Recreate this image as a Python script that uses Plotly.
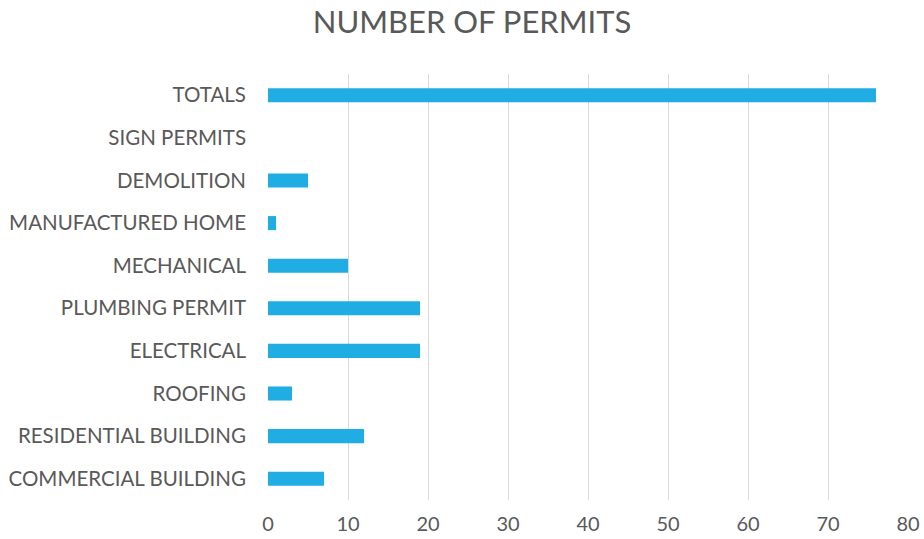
import plotly.graph_objects as go

categories = ["COMMERCIAL BUILDING", "RESIDENTIAL BUILDING", "ROOFING", "ELECTRICAL",
              "PLUMBING PERMIT", "MECHANICAL", "MANUFACTURED HOME", "DEMOLITION",
              "SIGN PERMITS", "TOTALS"]
values = [7, 12, 3, 19, 19, 10, 1, 5, 0, 76]
x_ticks = [0, 10, 20, 30, 40, 50, 60, 70, 80]

W, H = 924, 539

fig = go.Figure(go.Bar(
    x=values, y=categories, orientation="h",
    marker=dict(color="#1FADE4", line=dict(width=0)),
    width=0.33,
))

fig.update_layout(
    width=W, height=H,
    margin=dict(l=268, r=16, t=74, b=39, autoexpand=False),
    paper_bgcolor="white", plot_bgcolor="white",
    font=dict(family="Lato, Open Sans, sans-serif", color="#595959", size=20),
    title=dict(text="NUMBER OF PERMITS", x=472 / W, xref="container", xanchor="center",
               y=1 - 22 / H, yref="container", yanchor="middle",
               font=dict(size=31, color="#595959")),
    showlegend=False,
    xaxis=dict(range=[0, 80], tickvals=x_ticks, showgrid=True, gridcolor="#d9d9d9",
               gridwidth=1.3, zeroline=False, showline=False, ticks="",
               automargin=False, ticklabelstandoff=10,
               tickfont=dict(size=20, color="#595959")),
    yaxis=dict(categoryorder="array", categoryarray=categories, showgrid=False,
               zeroline=False, showline=False, ticks="", automargin=False,
               ticklabelstandoff=21,
               tickfont=dict(size=20.5, color="#595959")),
)

fig.write_html("out.html", config={"displayModeBar": False},
               post_script="document.body.style.margin='0';")
